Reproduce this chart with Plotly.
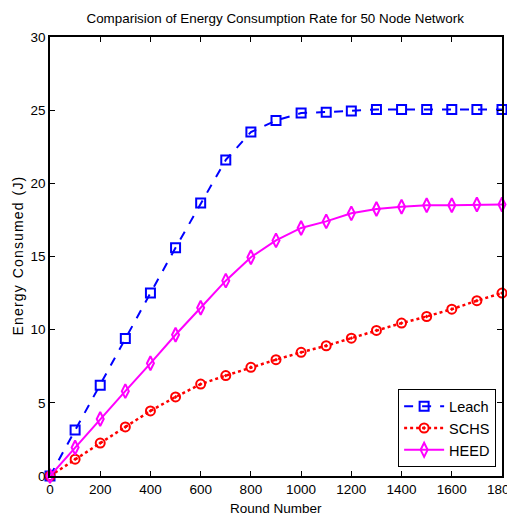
import plotly.graph_objects as go

rounds = [0, 100, 200, 300, 400, 500, 600, 700, 800, 900, 1000, 1100, 1200, 1300, 1400, 1500, 1600, 1700, 1800]
leach = [0, 3.15, 6.2, 9.4, 12.5, 15.6, 18.65, 21.6, 23.5, 24.3, 24.8, 24.85, 24.95, 25.05, 25.05, 25.05, 25.05, 25.05, 25.05]
schs = [0, 1.15, 2.25, 3.35, 4.45, 5.4, 6.28, 6.86, 7.43, 7.95, 8.45, 8.9, 9.42, 9.95, 10.45, 10.9, 11.4, 11.98, 12.5]
heed = [0, 1.95, 3.9, 5.8, 7.7, 9.65, 11.5, 13.35, 14.95, 16.1, 16.95, 17.4, 17.95, 18.25, 18.4, 18.5, 18.5, 18.55, 18.55]

x_ticks = [0, 200, 400, 600, 800, 1000, 1200, 1400, 1600, 1800]
y_ticks = [0, 5, 10, 15, 20, 25, 30]

FONT = "Liberation Sans, Arial"

fig = go.Figure()
fig.add_trace(go.Scatter(x=rounds, y=leach, name="Leach", mode="lines+markers",
                         line=dict(color="#0000ff", width=2, dash="dash"),
                         marker=dict(symbol="square-open", size=9, color="#0000ff", line=dict(width=2)),
                         cliponaxis=False))
fig.add_trace(go.Scatter(x=rounds, y=schs, name="SCHS", mode="lines+markers",
                         line=dict(color="#ff0000", width=2.5, dash="dot"),
                         marker=dict(symbol="circle-open-dot", size=9, color="#ff0000", line=dict(width=2)),
                         cliponaxis=False))
fig.add_trace(go.Scatter(x=rounds, y=heed, name="HEED", mode="lines+markers",
                         line=dict(color="#ff00ff", width=2),
                         marker=dict(symbol="diamond-tall-open", size=10, color="#ff00ff", line=dict(width=2)),
                         cliponaxis=False))

axis_common = dict(showline=True, linecolor="black", linewidth=1.5, mirror="ticks",
                   ticks="inside", ticklen=5, tickcolor="black", showgrid=False, zeroline=False,
                   automargin=False, ticklabeloverflow="allow",
                   tickfont=dict(family=FONT, size=13.5, color="black"))

fig.update_layout(
    width=507, height=509,
    margin=dict(l=42, r=13, t=29, b=41),
    paper_bgcolor="white", plot_bgcolor="white",
    title=dict(text="Comparision of Energy Consumption Rate for 50 Node Network",
               x=0.527, xanchor="center", y=0.98, yanchor="middle", automargin=False,
               font=dict(family=FONT, size=13.4, color="black")),
    xaxis=dict(range=[0, 1800], tickvals=x_ticks, **axis_common),
    yaxis=dict(range=[0, 30], tickvals=y_ticks, **axis_common),
    annotations=[
        dict(text="Round Number", xref="paper", yref="paper", x=0.5, y=-0.073,
             xanchor="center", yanchor="middle", showarrow=False,
             font=dict(family=FONT, size=13.5, color="black")),
        dict(text="E n e r g y  C o n s u m e d  ( J )".replace("  ", "\u2002").replace(" ", "\u200a"),
             xref="paper", yref="paper", x=-0.073, y=0.5,
             xanchor="center", yanchor="middle", showarrow=False, textangle=-90,
             font=dict(family=FONT, size=14, color="black")),
    ],
    legend=dict(x=0.987, y=0.02, xanchor="right", yanchor="bottom",
                bgcolor="white", bordercolor="black", borderwidth=1,
                font=dict(family=FONT, size=14.5, color="black"),
                itemwidth=40, tracegroupgap=2),
    showlegend=True,
)

fig.write_html("out.html")
